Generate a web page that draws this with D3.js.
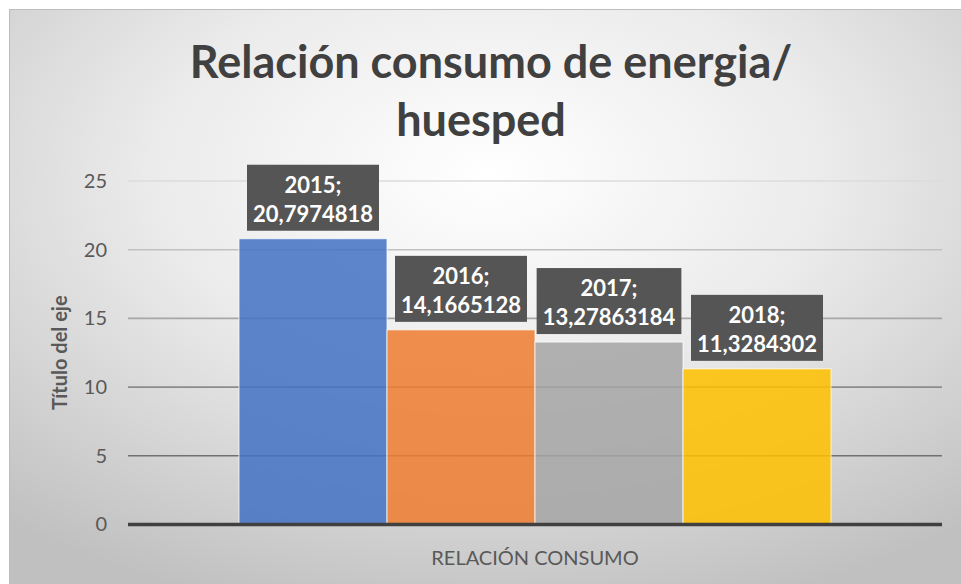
<!DOCTYPE html>
<html>
<head>
<meta charset="utf-8">
<script src="https://cdn.jsdelivr.net/npm/d3@7"></script>
<style>
  body { margin: 0; background: #fff; }
  svg { display: block; font-family: Lato, "Open Sans", sans-serif; }
</style>
</head>
<body>
<div id="chart"></div>
<script>
// datos del grafico
const years = ["2015", "2016", "2017", "2018"];
const values = [20.7974818, 14.1665128, 13.27863184, 11.3284302];
const categories = ["RELACIÓN CONSUMO"];
const yTicks = [0, 5, 10, 15, 20, 25];
const colors = ["#4472C4", "#ED7D31", "#A5A5A5", "#FFC000"];

let width = 961;
let height = 584;
let plot = {left: 128, right: 942, top: 181, bottom: 524.5};

var svg = d3.select("#chart")
    .append("svg")
    .attr("width", width)
    .attr("height", height);

var defs = svg.append("defs");
var bg = defs.append("radialGradient")
    .attr("id", "bg")
    .attr("cx", "50%").attr("cy", "28%").attr("r", "78%");
bg.append("stop").attr("offset", "0%").attr("stop-color", "#ffffff");
bg.append("stop").attr("offset", "45%").attr("stop-color", "#ebebeb");
bg.append("stop").attr("offset", "100%").attr("stop-color", "#c0c0c0");

var grid = defs.append("linearGradient")
    .attr("id", "grid")
    .attr("gradientUnits", "userSpaceOnUse")
    .attr("x1", 0).attr("x2", 0)
    .attr("y1", plot.top).attr("y2", 460);
grid.append("stop").attr("offset", "0%").attr("stop-color", "#dcdcdc");
grid.append("stop").attr("offset", "100%").attr("stop-color", "#6f6f6f");

// fondo
svg.append("rect")
    .attr("x", 9.5).attr("y", 9.5)
    .attr("width", width).attr("height", height)
    .attr("fill", "url(#bg)")
    .attr("stroke", "#bdbdbd");

// escalas
let x0 = d3.scaleBand()
    .domain(categories)
    .range([plot.left, plot.right])
    .paddingInner(1.5 / 5.5)
    .paddingOuter(0.75 / 5.5);

let x1 = d3.scaleBand()
    .domain(years)
    .range([0, x0.bandwidth()]);

let y = d3.scaleLinear()
    .domain([0, 25])
    .range([plot.bottom, plot.top]);

// lineas de cuadricula
svg.append("g")
    .selectAll("line")
    .data(yTicks.filter(d => d > 0))
    .join("line")
    .attr("x1", plot.left).attr("x2", plot.right)
    .attr("y1", d => y(d)).attr("y2", d => y(d))
    .attr("stroke", "url(#grid)")
    .attr("stroke-width", 1.6);

// eje y
let yAxis = svg.append("g")
    .attr("transform", `translate(${plot.left},0)`)
    .call(d3.axisLeft(y).tickValues(yTicks).tickSize(0).tickPadding(21));
yAxis.select(".domain").remove();
yAxis.selectAll("text")
    .attr("fill", "#595959")
    .style("font-size", "20px")
    .style("font-family", "Lato, sans-serif");

// barras
let data = years.map((yr, i) => ({year: yr, value: values[i], color: colors[i]}));

let bars = svg.append("g")
    .attr("transform", `translate(${x0(categories[0])},0)`);

bars.selectAll("rect")
    .data(data)
    .join("rect")
    .attr("x", d => x1(d.year))
    .attr("y", d => y(d.value))
    .attr("width", x1.bandwidth())
    .attr("height", d => y(0) - y(d.value))
    .attr("fill", d => d.color)
    .attr("fill-opacity", 0.86)
    .attr("stroke", "#ffffff")
    .attr("stroke-opacity", 0.75)
    .attr("stroke-width", 1);

// eje x (linea base)
svg.append("line")
    .attr("x1", plot.left).attr("x2", plot.right)
    .attr("y1", y(0)).attr("y2", y(0))
    .attr("stroke", "#404040")
    .attr("stroke-width", 3.5);

svg.append("text")
    .attr("x", (plot.left + plot.right) / 2)
    .attr("y", 565)
    .attr("text-anchor", "middle")
    .attr("fill", "#595959")
    .style("font-size", "20px")
    .text(categories[0]);

// etiquetas de datos
let labels = bars.selectAll("g.lbl")
    .data(data)
    .join("g")
    .attr("class", "lbl")
    .attr("transform", d => `translate(${x1(d.year) + x1.bandwidth() / 2},${y(d.value) - 8})`);

labels.each(function (d) {
    let g = d3.select(this);
    let box = g.append("rect").attr("fill", "#555555");
    let t1 = g.append("text")
        .attr("text-anchor", "middle")
        .attr("y", -38)
        .attr("fill", "#ffffff")
        .style("font-size", "22px")
        .style("font-weight", 700)
        .text(d.year + ";");
    let t2 = g.append("text")
        .attr("text-anchor", "middle")
        .attr("y", -9)
        .attr("fill", "#ffffff")
        .style("font-size", "22px")
        .style("font-weight", 700)
        .text(String(d.value).replace(".", ","));
    let w = Math.max(t1.node().getComputedTextLength(), t2.node().getComputedTextLength()) + 12;
    box.attr("x", -w / 2).attr("y", -66).attr("width", w).attr("height", 66);
});

// titulo del eje y
svg.append("text")
    .attr("transform", `translate(67,${(plot.top + plot.bottom) / 2}) rotate(-90)`)
    .attr("text-anchor", "middle")
    .attr("fill", "#595959")
    .style("font-size", "20px")
    .style("font-weight", 700)
    .text("Título del eje");

// titulo
let title = svg.append("g")
    .attr("fill", "#404040")
    .style("font-size", "45px")
    .style("font-weight", 700);
title.append("text")
    .attr("x", 491).attr("y", 78)
    .attr("text-anchor", "middle")
    .text("Relación consumo de energia/");
title.append("text")
    .attr("x", 481).attr("y", 136)
    .attr("text-anchor", "middle")
    .text("huesped");
</script>
</body>
</html>
